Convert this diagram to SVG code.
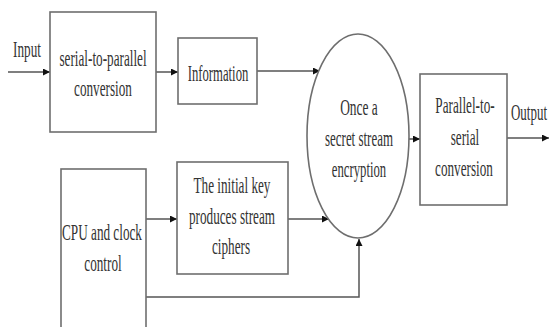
<svg xmlns="http://www.w3.org/2000/svg" width="550" height="327" viewBox="0 0 550 327">
<defs>
<style>
.box{fill:#fff;stroke:#6e6e6e;stroke-width:1.6}
.ln{fill:none;stroke:#555;stroke-width:1.5}
text{font-family:"Liberation Serif","Times New Roman",serif;font-size:24px;fill:#333;text-anchor:middle}
</style>
<marker id="ah" viewBox="0 0 10 10" refX="10" refY="5" markerWidth="7" markerHeight="7" markerUnits="userSpaceOnUse" orient="auto">
<path d="M0,0 L10,5 L0,10 z" fill="#111"/>
</marker>
</defs>
<rect width="550" height="327" fill="#fff"/>
<g id="connectors">
<line class="ln" x1="8" y1="72" x2="50" y2="72" marker-end="url(#ah)"/>
<line class="ln" x1="156" y1="72" x2="178" y2="72" marker-end="url(#ah)"/>
<line class="ln" x1="257" y1="71" x2="320" y2="71" marker-end="url(#ah)"/>
<line class="ln" x1="146" y1="219" x2="177" y2="219" marker-end="url(#ah)"/>
<line class="ln" x1="288" y1="219" x2="329" y2="219" marker-end="url(#ah)"/>
<polyline class="ln" points="146,297 359,297 359,239" marker-end="url(#ah)"/>
<line class="ln" x1="409" y1="139" x2="420" y2="139" marker-end="url(#ah)"/>
<line class="ln" x1="507" y1="138" x2="549" y2="138" marker-end="url(#ah)"/>
</g>
<g id="input-label"><text transform="translate(27,57) scale(0.55,1)">Input</text></g>
<g id="serial-to-parallel">
<rect class="box" x="50" y="12" width="106" height="120"/>
<text transform="translate(103,66) scale(0.55,1)">serial-to-parallel</text>
<text transform="translate(103,96) scale(0.55,1)">conversion</text>
</g>
<g id="information">
<rect class="box" x="178" y="38" width="79" height="66"/>
<text transform="translate(218,81) scale(0.53,1)">Information</text>
</g>
<g id="encryption">
<ellipse class="box" cx="358" cy="136" rx="51" ry="102"/>
<text transform="translate(359,115) scale(0.56,1)">Once a</text>
<text transform="translate(359,146) scale(0.54,1)">secret stream</text>
<text transform="translate(359,177) scale(0.53,1)">encryption</text>
</g>
<g id="parallel-to-serial">
<rect class="box" x="420" y="74" width="87" height="131"/>
<text transform="translate(465,113) scale(0.55,1)">Parallel-to-</text>
<text transform="translate(465,145) scale(0.55,1)">serial</text>
<text transform="translate(464,176) scale(0.55,1)">conversion</text>
</g>
<g id="output-label"><text transform="translate(529,120) scale(0.54,1)">Output</text></g>
<g id="cpu">
<rect class="box" x="61" y="169" width="85" height="170"/>
<text transform="translate(102,240) scale(0.55,1)">CPU and clock</text>
<text transform="translate(103,271) scale(0.55,1)">control</text>
</g>
<g id="initial-key">
<rect class="box" x="177" y="162" width="111" height="112"/>
<text transform="translate(232,193) scale(0.55,1)">The initial key</text>
<text transform="translate(232,224) scale(0.55,1)">produces stream</text>
<text transform="translate(231,254) scale(0.55,1)">ciphers</text>
</g>
</svg>
